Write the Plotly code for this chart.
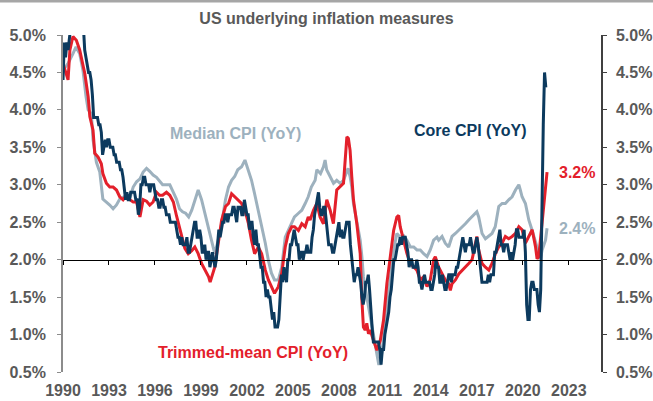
import plotly.graph_objects as go

# ---------------- data ----------------
# Core CPI (YoY, %), monthly from Jan 1990 to Jul 2021, one row per year
core_start_year = 1990
core_cpi_by_year = [
    [4.4, 4.9, 4.7, 4.9, 4.8, 5.0, 5.1, 5.2, 5.3, 5.3, 5.3, 5.2],  # 1990
    [5.6, 5.6, 5.2, 5.1, 5.1, 4.8, 4.7, 4.6, 4.5, 4.5, 4.4, 4.2],  # 1991
    [3.9, 3.9, 3.9, 3.9, 3.8, 3.8, 3.7, 3.4, 3.5, 3.6, 3.5, 3.6],  # 1992
    [3.6, 3.5, 3.5, 3.5, 3.4, 3.4, 3.3, 3.3, 3.3, 3.2, 3.2, 3.1],  # 1993
    [2.9, 2.8, 2.9, 2.8, 2.8, 2.9, 2.9, 2.9, 2.9, 2.8, 2.8, 2.6],  # 1994
    [2.7, 3.0, 3.0, 3.1, 3.1, 3.0, 3.0, 3.0, 2.9, 3.0, 3.0, 3.0],  # 1995
    [2.9, 2.8, 2.8, 2.7, 2.7, 2.8, 2.8, 2.7, 2.7, 2.6, 2.6, 2.6],  # 1996
    [2.5, 2.5, 2.5, 2.5, 2.5, 2.4, 2.3, 2.3, 2.2, 2.3, 2.2, 2.2],  # 1997
    [2.2, 2.3, 2.1, 2.1, 2.2, 2.3, 2.4, 2.5, 2.5, 2.3, 2.3, 2.4],  # 1998
    [2.3, 2.1, 2.1, 2.2, 2.0, 2.1, 2.1, 1.9, 2.0, 2.1, 2.0, 1.9],  # 1999
    [2.0, 2.2, 2.4, 2.3, 2.4, 2.5, 2.5, 2.6, 2.6, 2.5, 2.6, 2.6],  # 2000
    [2.6, 2.7, 2.7, 2.6, 2.5, 2.7, 2.7, 2.7, 2.6, 2.6, 2.8, 2.7],  # 2001
    [2.6, 2.6, 2.4, 2.5, 2.5, 2.3, 2.2, 2.4, 2.2, 2.2, 2.0, 1.9],  # 2002
    [1.9, 1.7, 1.7, 1.5, 1.6, 1.5, 1.5, 1.3, 1.2, 1.3, 1.1, 1.1],  # 2003
    [1.1, 1.2, 1.6, 1.8, 1.7, 1.9, 1.8, 1.7, 2.0, 2.0, 2.2, 2.2],  # 2004
    [2.3, 2.4, 2.3, 2.2, 2.2, 2.0, 2.1, 2.1, 2.0, 2.1, 2.1, 2.2],  # 2005
    [2.1, 2.1, 2.1, 2.3, 2.4, 2.6, 2.7, 2.8, 2.9, 2.7, 2.6, 2.6],  # 2006
    [2.7, 2.7, 2.5, 2.3, 2.2, 2.2, 2.2, 2.1, 2.1, 2.2, 2.3, 2.4],  # 2007
    [2.5, 2.3, 2.4, 2.3, 2.3, 2.4, 2.5, 2.5, 2.5, 2.2, 2.0, 1.8],  # 2008
    [1.7, 1.8, 1.8, 1.9, 1.8, 1.7, 1.5, 1.4, 1.5, 1.7, 1.7, 1.8],  # 2009
    [1.6, 1.3, 1.1, 0.9, 0.9, 0.9, 0.9, 0.9, 0.8, 0.6, 0.8, 0.8],  # 2010
    [1.0, 1.1, 1.2, 1.3, 1.5, 1.6, 1.8, 2.0, 2.0, 2.1, 2.2, 2.2],  # 2011
    [2.3, 2.2, 2.3, 2.3, 2.3, 2.2, 2.1, 1.9, 2.0, 2.0, 1.9, 1.9],  # 2012
    [1.9, 2.0, 1.9, 1.7, 1.7, 1.6, 1.7, 1.8, 1.7, 1.7, 1.7, 1.7],  # 2013
    [1.6, 1.6, 1.7, 1.8, 2.0, 1.9, 1.9, 1.7, 1.7, 1.8, 1.7, 1.6],  # 2014
    [1.6, 1.7, 1.8, 1.8, 1.7, 1.8, 1.8, 1.8, 1.9, 1.9, 2.0, 2.1],  # 2015
    [2.2, 2.3, 2.2, 2.1, 2.2, 2.2, 2.2, 2.3, 2.2, 2.1, 2.1, 2.2],  # 2016
    [2.3, 2.2, 2.0, 1.9, 1.7, 1.7, 1.7, 1.7, 1.7, 1.8, 1.7, 1.8],  # 2017
    [1.8, 1.8, 2.1, 2.1, 2.2, 2.3, 2.4, 2.2, 2.2, 2.1, 2.2, 2.2],  # 2018
    [2.2, 2.1, 2.0, 2.1, 2.0, 2.1, 2.2, 2.4, 2.4, 2.3, 2.3, 2.3],  # 2019
    [2.3, 2.4, 2.1, 1.4, 1.2, 1.2, 1.6, 1.7, 1.7, 1.6, 1.6, 1.6],  # 2020
    [1.4, 1.3, 1.6, 3.0, 3.8, 4.5, 4.3],                           # 2021
]

# Median CPI (YoY, %), decimal-year dates
median_t = [1990.0, 1990.33, 1990.65, 1990.85, 1991.09, 1991.3, 1991.5, 1991.64, 1991.85, 1991.96,
            1992.18, 1992.4, 1992.6, 1992.83, 1993.05, 1993.27, 1993.49, 1993.7, 1993.92, 1994.14,
            1994.36, 1994.58, 1994.8, 1995.02, 1995.23, 1995.45, 1995.66, 1995.88, 1996.1, 1996.3,
            1996.5, 1996.75, 1996.97, 1997.2, 1997.4, 1997.6, 1997.8, 1998.0, 1998.2, 1998.4,
            1998.6, 1998.82, 1999.04, 1999.26, 1999.5, 1999.7, 1999.9, 2000.13, 2000.35, 2000.6,
            2000.8, 2001.0, 2001.2, 2001.4, 2001.65, 2001.87, 2002.1, 2002.3, 2002.5, 2002.74,
            2002.96, 2003.2, 2003.4, 2003.6, 2003.8, 2004.05, 2004.27, 2004.5, 2004.7, 2004.92,
            2005.1, 2005.36, 2005.58, 2005.8, 2006.0, 2006.2, 2006.45, 2006.56, 2006.8, 2006.99,
            2007.1, 2007.2, 2007.43, 2007.65, 2007.86, 2008.08, 2008.3, 2008.52, 2008.6, 2008.73,
            2008.84, 2008.95, 2009.17, 2009.39, 2009.5, 2009.6, 2009.82, 2010.04, 2010.26, 2010.48,
            2010.59, 2010.7, 2010.9, 2011.13, 2011.35, 2011.57, 2011.78, 2012.0, 2012.22, 2012.44,
            2012.66, 2012.88, 2013.09, 2013.31, 2013.53, 2013.75, 2013.96, 2014.18, 2014.4, 2014.51,
            2014.73, 2014.94, 2015.16, 2015.38, 2015.6, 2015.82, 2016.03, 2016.25, 2016.47, 2016.69,
            2016.9, 2017.0, 2017.12, 2017.34, 2017.56, 2017.78, 2017.99, 2018.2, 2018.43, 2018.65,
            2018.86, 2019.08, 2019.3, 2019.52, 2019.74, 2019.84, 2019.95, 2020.17, 2020.39, 2020.61,
            2020.83, 2021.04, 2021.15, 2021.26, 2021.48, 2021.58]
median_v = [4.53, 4.62, 4.75, 4.84, 4.75, 4.53, 4.18, 4.00, 3.95, 3.60,
            3.30, 3.17, 2.81, 2.77, 2.73, 2.68, 2.73, 2.81, 2.83, 2.86,
            2.82, 2.97, 3.04, 3.08, 3.17, 3.22, 3.18, 3.13, 3.10, 3.05,
            3.00, 3.00, 3.00, 2.90, 2.81, 2.68, 2.64, 2.62, 2.57, 2.66,
            2.80, 2.93, 2.80, 2.62, 2.44, 2.26, 2.08, 2.26, 2.48, 2.80,
            2.97, 3.06, 3.11, 3.20, 3.24, 3.33, 3.20, 3.06, 2.88, 2.66,
            2.44, 2.22, 1.99, 1.82, 1.73, 1.73, 1.90, 2.30, 2.39, 2.48,
            2.57, 2.62, 2.66, 2.75, 2.84, 2.97, 3.06, 3.20, 3.15, 3.24,
            3.33, 3.20, 3.11, 3.02, 3.06, 3.02, 3.06, 3.20, 3.22, 3.11,
            2.97, 2.75, 2.48, 2.26, 2.04, 1.77, 1.50, 1.24, 0.97, 0.75,
            0.61, 0.61, 0.92, 1.37, 1.77, 2.13, 2.35, 2.30, 2.32, 2.26,
            2.17, 2.17, 2.13, 2.13, 2.08, 2.04, 2.13, 2.26, 2.30, 2.26,
            2.31, 2.22, 2.17, 2.31, 2.35, 2.39, 2.44, 2.48, 2.53, 2.57,
            2.62, 2.64, 2.57, 2.35, 2.28, 2.31, 2.35, 2.44, 2.71, 2.75,
            2.75, 2.80, 2.84, 2.93, 3.00, 2.93, 2.84, 2.75, 2.53, 2.39,
            2.22, 2.08, 2.01, 2.13, 2.26, 2.42]

# Trimmed-mean CPI (YoY, %), decimal-year dates
trimmed_t = [1990.0, 1990.2, 1990.33, 1990.45, 1990.65, 1990.87, 1991.09, 1991.3, 1991.42, 1991.64,
             1991.75, 1991.96, 1992.07, 1992.29, 1992.5, 1992.6, 1992.83, 1993.05, 1993.27, 1993.49,
             1993.7, 1993.92, 1994.14, 1994.36, 1994.58, 1994.8, 1995.02, 1995.23, 1995.45, 1995.66,
             1995.88, 1996.1, 1996.3, 1996.5, 1996.75, 1996.97, 1997.2, 1997.4, 1997.6, 1997.8,
             1997.95, 1998.17, 1998.4, 1998.6, 1998.82, 1999.04, 1999.26, 1999.5, 1999.6, 1999.8,
             1999.9, 2000.13, 2000.35, 2000.6, 2000.8, 2001.0, 2001.2, 2001.4, 2001.65, 2001.87,
             2002.1, 2002.3, 2002.5, 2002.74, 2002.96, 2003.2, 2003.4, 2003.6, 2003.8, 2004.05,
             2004.27, 2004.5, 2004.7, 2004.92, 2005.1, 2005.36, 2005.58, 2005.8, 2006.0, 2006.12,
             2006.34, 2006.56, 2006.77, 2006.99, 2007.21, 2007.43, 2007.64, 2007.86, 2008.08, 2008.3,
             2008.41, 2008.52, 2008.62, 2008.73, 2008.84, 2008.95, 2009.17, 2009.39, 2009.5, 2009.6,
             2009.71, 2009.82, 2009.93, 2010.04, 2010.26, 2010.48, 2010.7, 2010.91, 2011.13, 2011.35,
             2011.57, 2011.78, 2011.9, 2012.0, 2012.22, 2012.44, 2012.66, 2012.88, 2013.09, 2013.31,
             2013.53, 2013.75, 2013.96, 2014.18, 2014.29, 2014.51, 2014.73, 2014.94, 2015.16, 2015.27,
             2015.38, 2015.6, 2015.82, 2016.03, 2016.25, 2016.47, 2016.69, 2016.9, 2017.0, 2017.12,
             2017.34, 2017.56, 2017.78, 2017.99, 2018.21, 2018.43, 2018.65, 2018.86, 2019.08, 2019.3,
             2019.52, 2019.74, 2019.95, 2020.17, 2020.39, 2020.61, 2020.83, 2020.93, 2021.04, 2021.26,
             2021.48, 2021.58]
trimmed_v = [4.62, 4.50, 4.40, 4.80, 4.98, 4.93, 4.80, 4.60, 4.49, 4.18,
             3.91, 3.73, 3.42, 3.37, 3.28, 3.15, 3.02, 2.97, 2.97, 2.93,
             2.84, 2.80, 2.86, 2.80, 2.77, 2.77, 2.57, 2.80, 2.78, 2.73,
             2.77, 2.90, 2.86, 2.86, 2.90, 2.86, 2.77, 2.59, 2.42, 2.28,
             2.15, 2.08, 2.12, 2.17, 2.08, 1.95, 1.86, 1.77, 1.70, 1.82,
             1.90, 2.22, 2.53, 2.71, 2.75, 2.88, 2.84, 2.80, 2.75, 2.66,
             2.48, 2.26, 2.08, 2.17, 2.08, 1.86, 1.73, 1.64, 1.55, 1.64,
             1.82, 2.17, 2.35, 2.44, 2.44, 2.39, 2.48, 2.44, 2.57, 2.53,
             2.66, 2.75, 2.57, 2.48, 2.80, 2.66, 2.48, 2.93, 2.97, 3.02,
             3.33, 3.64, 3.62, 3.46, 3.11, 2.80, 2.48, 2.08, 1.46, 1.10,
             1.06, 1.15, 1.01, 1.06, 0.92, 0.79, 0.92, 1.19, 1.68, 2.08,
             2.39, 2.57, 2.59, 2.44, 2.26, 2.08, 1.95, 1.90, 1.86, 1.73,
             1.77, 1.64, 1.73, 2.00, 2.04, 1.90, 1.81, 1.73, 1.68, 1.59,
             1.68, 1.73, 1.81, 1.86, 1.90, 1.95, 2.00, 2.22, 2.31, 2.13,
             1.95, 1.90, 1.86, 1.95, 2.08, 2.17, 2.22, 2.31, 2.28, 2.31,
             2.35, 2.44, 2.40, 2.22, 2.31, 2.40, 2.17, 2.01, 2.04, 2.48,
             2.93, 3.17]

x_tick_years = [1990, 1993, 1996, 1999, 2002, 2005, 2008, 2011, 2014, 2017, 2020, 2023]
y_ticks = [0.5, 1.0, 1.5, 2.0, 2.5, 3.0, 3.5, 4.0, 4.5, 5.0]

# ---------------- build ----------------
core_v = [v for row in core_cpi_by_year for v in row]
core_t = [core_start_year + i / 12 for i in range(len(core_v))]
y_tick_text = [f"{v:.1f}%" for v in y_ticks]

NAVY = "#0C3A5E"
RED = "#E3202B"
GRAY = "#9DB1BE"
TXT = "#595959"
FONT = "Liberation Sans"

X_RANGE = [1990, 2025.1]
Y_RANGE = [0.5, 5.0]

fig = go.Figure()
fig.add_trace(go.Scatter(x=median_t, y=median_v, mode="lines", name="Median CPI (YoY)",
                         line=dict(color=GRAY, width=3)))
fig.add_trace(go.Scatter(x=trimmed_t, y=trimmed_v, mode="lines", name="Trimmed-mean CPI (YoY)",
                         line=dict(color=RED, width=3)))
fig.add_trace(go.Scatter(x=core_t, y=core_v, mode="lines", name="Core CPI (YoY)",
                         line=dict(color=NAVY, width=3)))
# carrier for the secondary axes (x-axis line at 2.0% and the right-hand axis)
fig.add_trace(go.Scatter(x=[X_RANGE[0]], y=[2.0], xaxis="x2", yaxis="y2", mode="lines",
                         showlegend=False, hoverinfo="skip", line=dict(width=0)))

tickfont = dict(family=FONT, size=16, color=TXT, weight="bold")

fig.update_layout(
    template="none",
    width=653, height=401,
    margin=dict(l=63, r=52, t=35, b=29, autoexpand=False),
    paper_bgcolor="white", plot_bgcolor="white",
    showlegend=False,
    title=dict(text="US underlying inflation measures", x=0.5, xref="container",
               y=0.955, yref="container", xanchor="center", yanchor="middle",
               font=dict(family=FONT, size=16, color=TXT, weight="bold")),
    xaxis=dict(range=X_RANGE, tickvals=x_tick_years, ticktext=[str(y) for y in x_tick_years],
               showline=False, ticks="", showgrid=False, zeroline=False, automargin=False,
               tickfont=tickfont, ticklabelstandoff=7),
    xaxis2=dict(range=X_RANGE, overlaying="x", anchor="free",
                position=(2.0 - Y_RANGE[0]) / (Y_RANGE[1] - Y_RANGE[0]),
                tickvals=x_tick_years, showticklabels=False, ticks="outside", ticklen=4,
                tickcolor="#000000", tickwidth=1.2, showline=True, linecolor="#000000", linewidth=1.3,
                showgrid=False, zeroline=False, automargin=False),
    yaxis=dict(range=Y_RANGE, tickvals=y_ticks, ticktext=y_tick_text,
               ticks="outside", ticklen=4, tickcolor="#8C8C8C", tickwidth=1.3,
               showline=True, linecolor="#8C8C8C", linewidth=1.8, automargin=False,
               showgrid=False, zeroline=False, tickfont=tickfont, ticklabelstandoff=8),
    yaxis2=dict(range=Y_RANGE, overlaying="y", side="right", anchor="x2",
                tickvals=y_ticks, ticktext=y_tick_text,
                ticks="outside", ticklen=4, tickcolor="#404040", tickwidth=1.3,
                showline=True, linecolor="#404040", linewidth=1.5, automargin=False,
                showgrid=False, zeroline=False, tickfont=tickfont, ticklabelstandoff=6),
)

label_font = dict(family=FONT, size=16, weight="bold")
fig.add_annotation(x=2001.27, y=3.69, text="Median CPI (YoY)", showarrow=False,
                   font=dict(color=GRAY, **label_font))
fig.add_annotation(x=2016.6, y=3.72, text="Core CPI (YoY)", showarrow=False,
                   font=dict(color=NAVY, **label_font))
fig.add_annotation(x=2002.4, y=0.76, text="Trimmed-mean CPI (YoY)", showarrow=False,
                   font=dict(color=RED, **label_font))
fig.add_annotation(x=2023.55, y=3.16, text=f"{trimmed_v[-1]:.1f}%", showarrow=False,
                   font=dict(color=RED, **label_font))
fig.add_annotation(x=2023.55, y=2.42, text=f"{median_v[-1]:.1f}%", showarrow=False,
                   font=dict(color=GRAY, **label_font))

# thin frame band along the top edge of the image
fig.add_shape(type="rect", xref="paper", yref="paper", x0=-0.15, x1=1.15,
              y0=1 + 32.5 / 337, y1=1 + 35 / 337, fillcolor="#A6A6A6",
              line=dict(width=0), layer="above")

# remove the browser's default page margin so the 653x401 figure fills the window
fig.write_html("out.html", config={"displayModeBar": False},
               post_script="document.body.style.margin='0';document.body.style.overflow='hidden';")
